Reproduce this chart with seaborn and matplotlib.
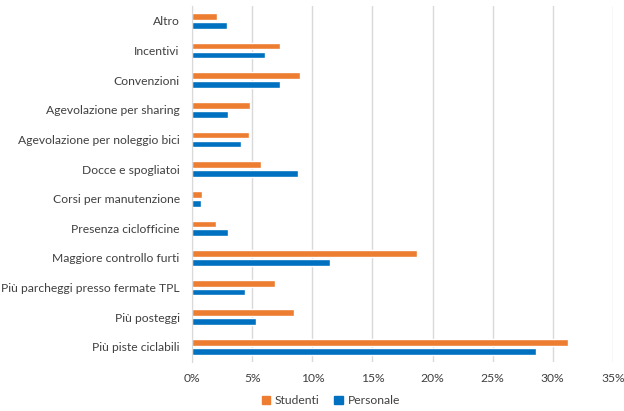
import matplotlib
matplotlib.use('Agg')
from matplotlib import pyplot as plt
from matplotlib.ticker import PercentFormatter
from matplotlib.patches import Patch
import pandas as pd
import seaborn as sns

categories = ['Altro', 'Incentivi', 'Convenzioni', 'Agevolazione per sharing',
              'Agevolazione per noleggio bici', 'Docce e spogliatoi',
              'Corsi per manutenzione', 'Presenza ciclofficine',
              'Maggiore controllo furti', 'Più parcheggi presso fermate TPL',
              'Più posteggi', 'Più piste ciclabili']
studenti = [2.1, 7.3, 9.0, 4.8, 4.7, 5.7, 0.8, 2.0, 18.7, 6.9, 8.5, 31.3]
personale = [2.9, 6.1, 7.3, 3.0, 4.1, 8.8, 0.7, 3.0, 11.5, 4.4, 5.3, 28.6]
groups = ['Studenti', 'Personale']
colors = ['#ED7D31', '#0070C0']

df = pd.DataFrame({'Categoria': categories * 2,
                   'Valore': studenti + personale,
                   'Gruppo': ['Studenti'] * 12 + ['Personale'] * 12})

sns.set_style('white')
plt.rcParams['font.family'] = ['Lato', 'DejaVu Sans']

f, ax = plt.subplots(figsize=(6.24, 4.11), dpi=100)
sns.barplot(data=df, y='Categoria', x='Valore', hue='Gruppo', order=categories,
            hue_order=groups, palette=colors, saturation=1, width=0.6, gap=0.25,
            orient='h', ax=ax, legend=False)

ax.set_xlim(0, 35)
ax.set_xticks(range(0, 36, 5))
ax.xaxis.set_major_formatter(PercentFormatter(decimals=0))
ax.set_ylim(11.5, -0.5)
ax.grid(axis='x', color='#D9D9D9', linewidth=1)
ax.set_axisbelow(True)
for s in ['top', 'right', 'bottom']:
    ax.spines[s].set_visible(False)
ax.spines['left'].set_color('#D9D9D9')
ax.tick_params(axis='both', length=0, labelsize=8.7, colors='#404040')
ax.tick_params(axis='y', pad=9)
ax.tick_params(axis='x', pad=8)
ax.set_xlabel('')
ax.set_ylabel('')

handles = [Patch(color=c, label=g) for c, g in zip(colors, groups)]
f.legend(handles=handles, loc='lower center', ncol=2, frameon=False,
         fontsize=8.7, handlelength=0.7, handleheight=0.7, handletextpad=0.4,
         columnspacing=1.2, bbox_to_anchor=(0.53, -0.015), labelcolor='#404040')

plt.subplots_adjust(left=0.308, right=0.982, top=0.985, bottom=0.12)
plt.savefig('out.png', dpi=100)
